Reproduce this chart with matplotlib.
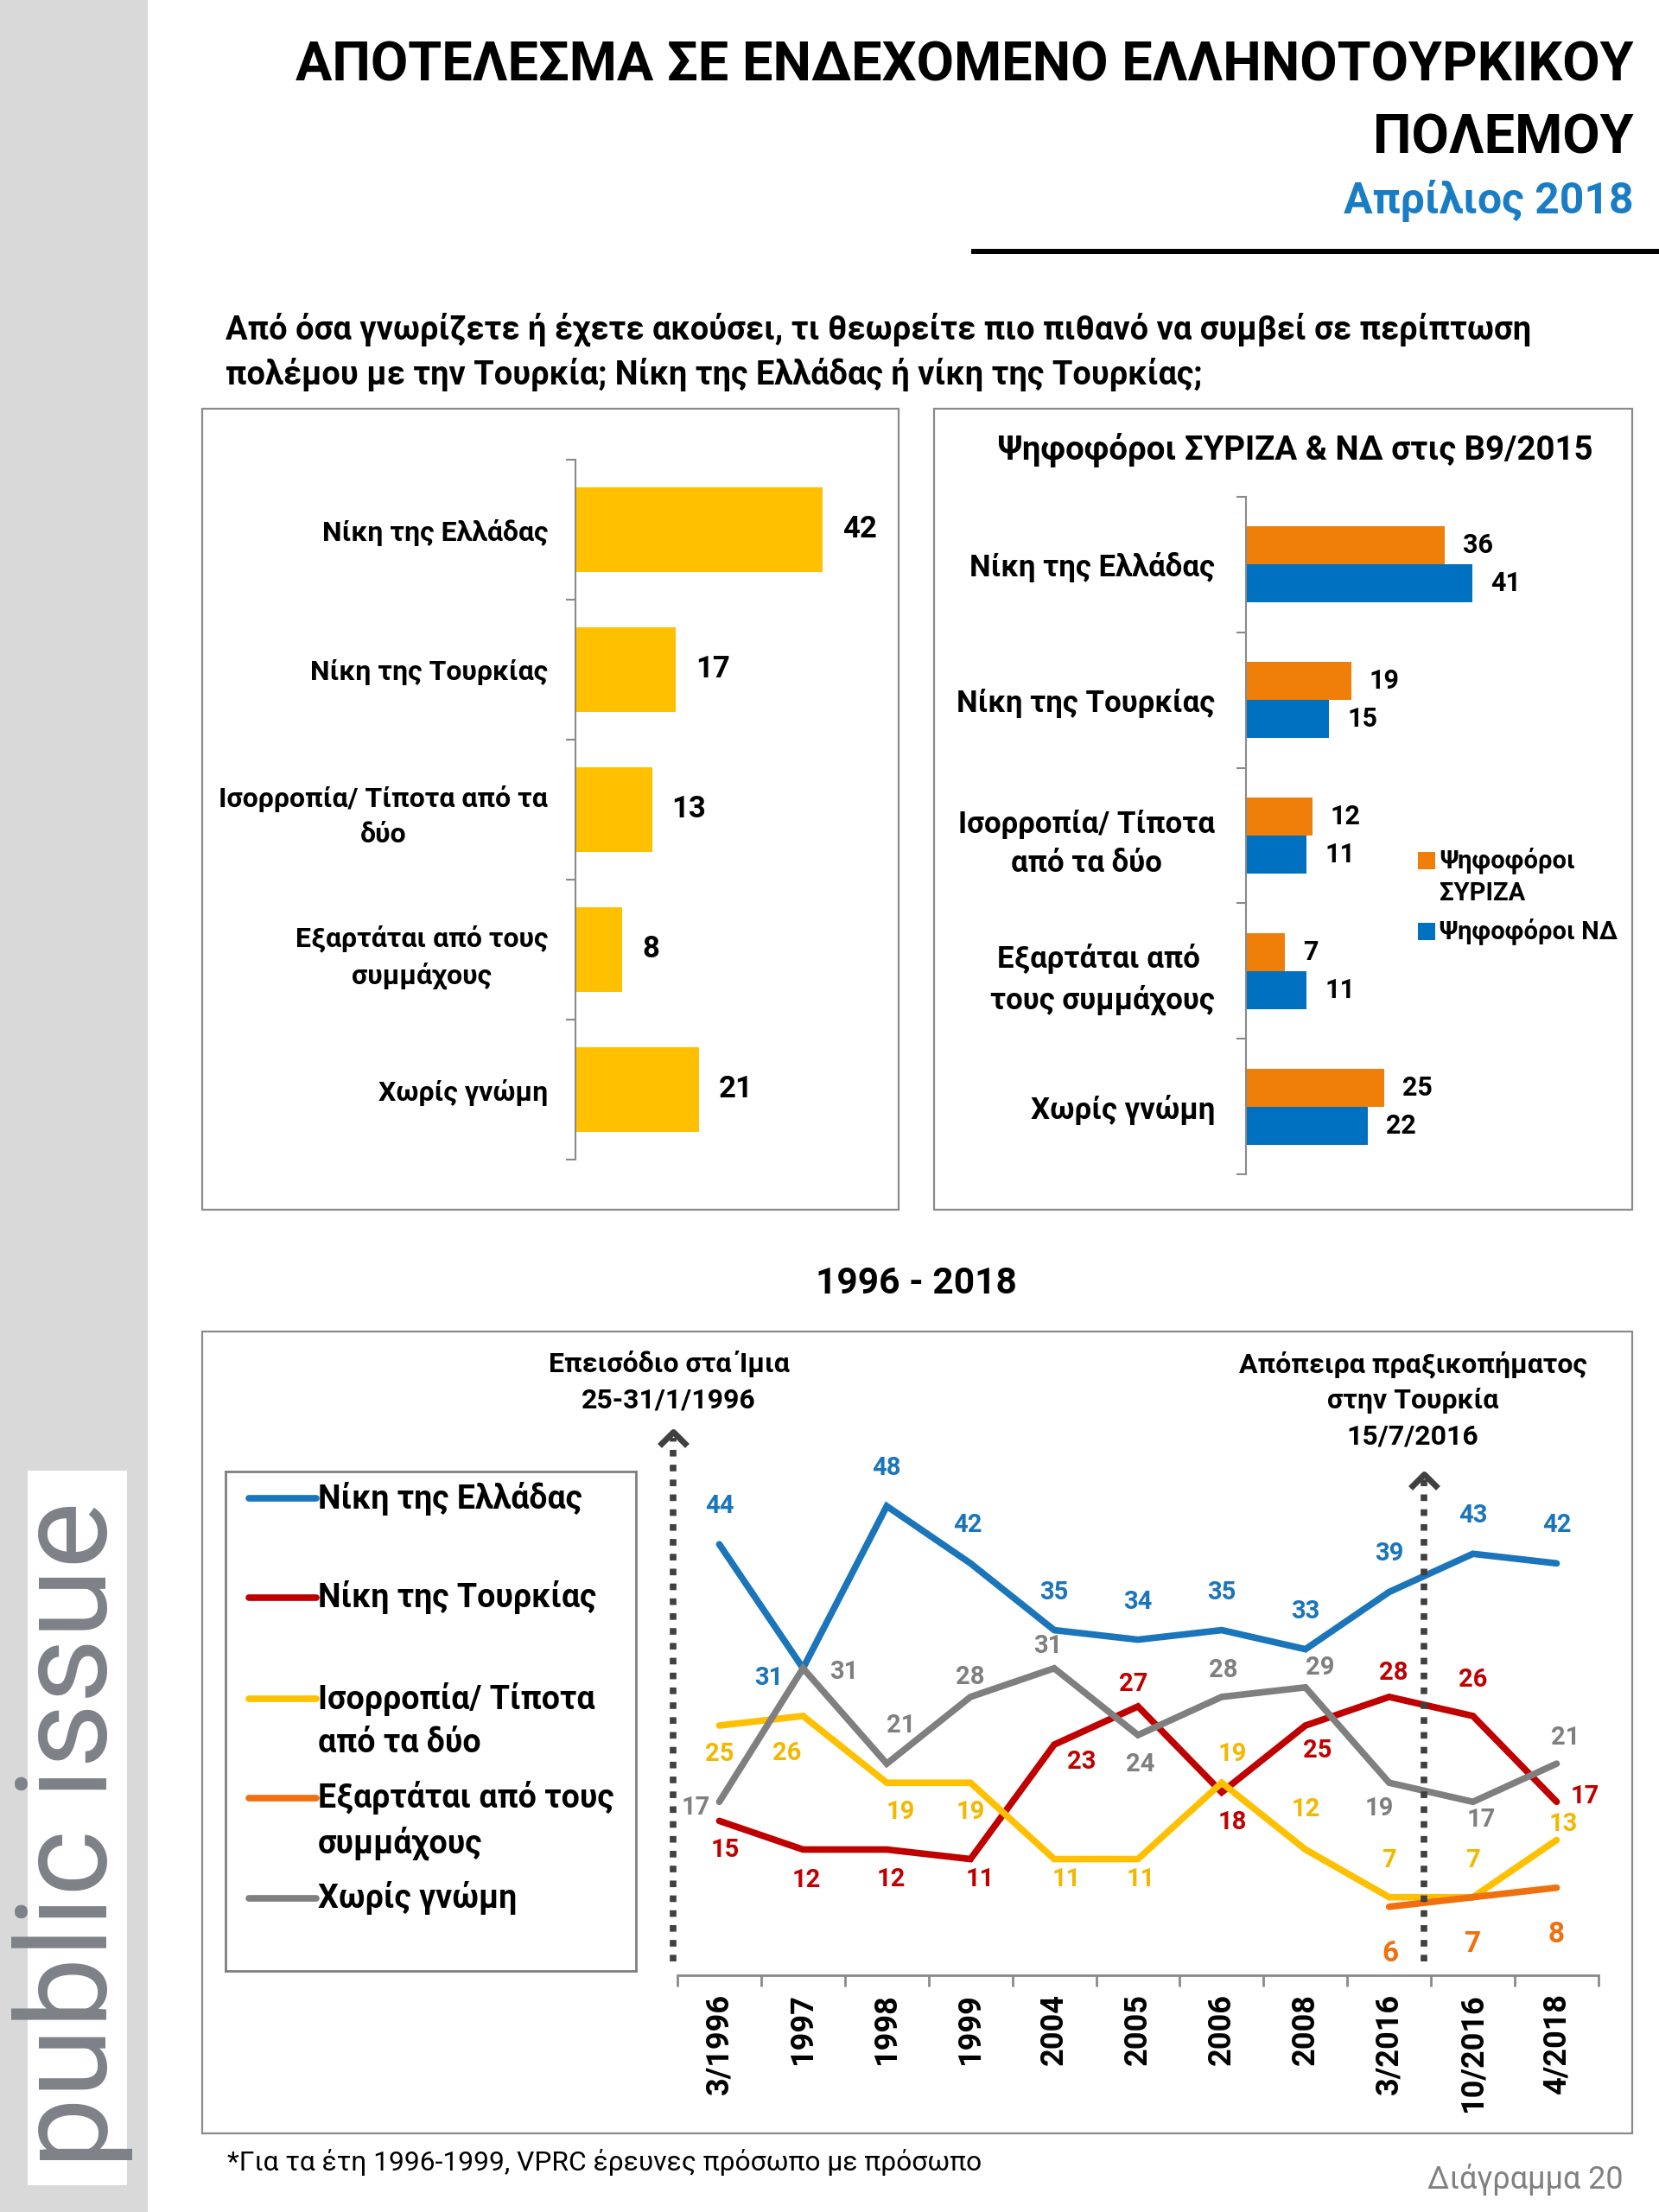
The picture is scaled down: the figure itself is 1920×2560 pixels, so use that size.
import numpy as np
import matplotlib
matplotlib.use('Agg')
import matplotlib.pyplot as plt
from matplotlib.patches import Rectangle
from matplotlib.lines import Line2D
from matplotlib.path import Path

plt.rcParams['font.family'] = ['Roboto', 'DejaVu Sans']

W, H = 1920, 2560

# ---- data ----
bar_cats = ['Νίκη της Ελλάδας', 'Νίκη της Τουρκίας', 'Ισορροπία/ Τίποτα από τα\nδύο',
            'Εξαρτάται από τους\nσυμμάχους', 'Χωρίς γνώμη']
bar_total = [42, 17, 13, 8, 21]

party_cats = ['Νίκη της Ελλάδας', 'Νίκη της Τουρκίας', 'Ισορροπία/ Τίποτα\nαπό τα δύο',
              'Εξαρτάται από \nτους συμμάχους', 'Χωρίς γνώμη']
syriza = [36, 19, 12, 7, 25]
nd = [41, 15, 11, 11, 22]

waves = ['3/1996', '1997', '1998', '1999', '2004', '2005', '2006', '2008',
         '3/2016', '10/2016', '4/2018']
greece_win = [44, 31, 48, 42, 35, 34, 35, 33, 39, 43, 42]
turkey_win = [15, 12, 12, 11, 23, 27, 18, 25, 28, 26, 17]
balance = [25, 26, 19, 19, 11, 11, 19, 12, 7, 7, 13]
allies = [np.nan] * 8 + [6, 7, 8]
no_opinion = [17, 31, 21, 28, 31, 24, 28, 29, 19, 17, 21]

series_names = ['Νίκη της Ελλάδας', 'Νίκη της Τουρκίας', 'Ισορροπία/ Τίποτα\nαπό τα δύο',
                'Εξαρτάται από τους\nσυμμάχους', 'Χωρίς γνώμη']

# label offsets in pixels (dx, dy up)
greece_off = [(0, 44), (-40, -11), (0, 44), (-3, 44), (0, 44), (0, 44), (0, 44), (0, 44), (0, 44), (0, 44), (0, 44)]
turkey_off = [(7, -34), (4, -36), (5, -35), (11, -23), (32, -20), (-5, 26), (12, -35), (14, -29), (5, 28), (0, 42), (33, 6)]
balance_off = [(0, -33), (-19, -43), (16, -34), (0, -34), (14, -23), (3, -23), (12, 33), (0, 46), (0, 43), (0, 43), (8, 18)]
allies_off = [(0, 0)] * 8 + [(1, -54), (0, -54), (0, -54)]
noop_off = [(-27, -7), (47, -4), (16, 44), (0, 23), (-7, 26), (3, -34), (2, 31), (17, 23), (-11, -30), (10, -21), (10, 30)]

BLUE = '#1b75bb'
RED = '#c00000'
YELLOW = '#ffc000'
ORANGE = '#f0700f'
GRAY = '#7f7f7f'
BORDER = '#8a8a8a'

fig = plt.figure(figsize=(W / 100, H / 100), dpi=100)
renderer = fig.canvas.get_renderer()


def fy(y):
    return 1 - y / H


def add_ax(x0, y0, x1, y1):
    return fig.add_axes([x0 / W, 1 - y1 / H, (x1 - x0) / W, (y1 - y0) / H])


def box(x0, y0, x1, y1, **kw):
    r = Rectangle((x0 / W, 1 - y1 / H), (x1 - x0) / W, (y1 - y0) / H,
                  transform=fig.transFigure, **kw)
    fig.add_artist(r)
    return r


def fit(t, target, vertical=False):
    bb = t.get_window_extent(renderer=renderer)
    cur = bb.height if vertical else bb.width
    t.set_fontsize(t.get_fontsize() * target / cur)
    return t.get_fontsize()


# ---- page decoration ----
box(0, 0, 171, H, facecolor='#d9d9d9', edgecolor='none', zorder=0)
box(32, 1702, 147, 2529, facecolor='white', edgecolor='none', zorder=0)
t = fig.text(84 / W, fy(2123), 'public issue', rotation=90, ha='center', va='center',
             color='#7d8188', fontsize=60)
fit(t, 772, vertical=True)

t1 = fig.text(1891 / W, fy(93), 'ΑΠΟΤΕΛΕΣΜΑ ΣΕ ΕΝΔΕΧΟΜΕΝΟ ΕΛΛΗΝΟΤΟΥΡΚΙΚΟΥ', ha='right',
              va='baseline', fontsize=40, fontweight='bold')
fs = fit(t1, 1548)
fig.text(1891 / W, fy(178), 'ΠΟΛΕΜΟΥ', ha='right', va='baseline', fontsize=fs, fontweight='bold')
t = fig.text(1891 / W, fy(247), 'Απρίλιος 2018', ha='right', va='baseline', fontsize=30,
             fontweight='bold', color='#1a7dc4')
fit(t, 336)
fig.add_artist(Line2D([1127 / W, 1], [fy(291), fy(291)], color='black', lw=4.3,
                      transform=fig.transFigure))

t = fig.text(261 / W, fy(393), 'Από όσα γνωρίζετε ή έχετε ακούσει, τι θεωρείτε πιο πιθανό να συμβεί σε περίπτωση',
             ha='left', va='baseline', fontsize=24, fontweight='bold')
fs = fit(t, 1510)
fig.text(261 / W, fy(445), 'πολέμου με την Τουρκία; Νίκη της Ελλάδας ή νίκη της Τουρκίας;',
         ha='left', va='baseline', fontsize=fs, fontweight='bold')

# panel frames
box(234, 473, 1040, 1400, fill=False, edgecolor=BORDER, lw=1.6)
box(1081, 473, 1889, 1400, fill=False, edgecolor=BORDER, lw=1.6)
box(234, 1541, 1889, 2469, fill=False, edgecolor=BORDER, lw=1.6)


def style_cat_axis(ax, labels, size, pad):
    for s in ['top', 'right', 'bottom']:
        ax.spines[s].set_visible(False)
    ax.spines['left'].set_color(BORDER)
    ax.spines['left'].set_linewidth(1.5)
    ax.xaxis.set_visible(False)
    ax.set_yticks(range(len(labels)))
    ax.set_yticklabels(labels, fontsize=size, fontweight='bold', multialignment='center',
                       linespacing=1.45)
    ax.set_yticks(np.arange(-0.5, len(labels)), minor=True)
    ax.tick_params(axis='y', which='major', length=0, pad=pad)
    ax.tick_params(axis='y', which='minor', length=8, width=1.5, color=BORDER, direction='out')
    ax.set_ylim(len(labels) - 0.5, -0.5)


# ---- left bar chart ----
ax1 = add_ax(666, 532, 1020, 1342)
ax1.barh(range(len(bar_total)), bar_total, height=0.6, color=YELLOW)
ax1.set_xlim(0, 52)
style_cat_axis(ax1, bar_cats, 23, 23)
for i, v in enumerate(bar_total):
    ax1.annotate(str(v), (v, i), xytext=(23, 0), textcoords='offset pixels', ha='left',
                 va='center', fontsize=25, fontweight='bold', annotation_clip=False)

# ---- right bar chart ----
ax2 = add_ax(1442, 575, 1762, 1359)
pos = np.arange(len(syriza))
ax2.barh(pos - 0.14, syriza, height=0.28, color='#f07f09')
ax2.barh(pos + 0.14, nd, height=0.28, color='#0070c0')
ax2.set_xlim(0, 50)
style_cat_axis(ax2, party_cats, 25, 26)
for i in range(len(syriza)):
    ax2.annotate(str(syriza[i]), (syriza[i], i - 0.14), xytext=(21, 0), textcoords='offset pixels',
                 ha='left', va='center', fontsize=22, fontweight='bold', annotation_clip=False)
    ax2.annotate(str(nd[i]), (nd[i], i + 0.14), xytext=(21, 0), textcoords='offset pixels',
                 ha='left', va='center', fontsize=22, fontweight='bold', annotation_clip=False)
t = fig.text(1499 / W, fy(531), 'Ψηφοφόροι ΣΥΡΙΖΑ & ΝΔ στις Β9/2015', ha='center', va='baseline',
             fontsize=25, fontweight='bold')
fit(t, 689)
box(1641, 986, 1661, 1006, facecolor='#f07f09', edgecolor='none')
box(1641, 1068, 1661, 1088, facecolor='#0070c0', edgecolor='none')
fig.text(1666 / W, fy(996), 'Ψηφοφόροι', ha='left', va='center', fontsize=21, fontweight='bold')
fig.text(1666 / W, fy(1034), 'ΣΥΡΙΖΑ', ha='left', va='center', fontsize=21, fontweight='bold')
fig.text(1666 / W, fy(1078), 'Ψηφοφόροι ΝΔ', ha='left', va='center', fontsize=21, fontweight='bold')

# ---- line chart ----
t = fig.text(1060 / W, fy(1497), '1996 - 2018', ha='center', va='baseline', fontsize=28,
             fontweight='bold')
fit(t, 233)

ax3 = add_ax(784, 1600, 1850, 2286)
x = np.arange(len(waves))
series = [greece_win, turkey_win, balance, allies, no_opinion]
colors = [BLUE, RED, YELLOW, ORANGE, GRAY]
offsets = [greece_off, turkey_off, balance_off, allies_off, noop_off]
for vals, c, offs in zip(series, colors, offsets):
    ax3.plot(x, vals, color=c, lw=5.5, solid_capstyle='round', solid_joinstyle='miter')
    big = c == ORANGE
    for xi, v, (dx, dy) in zip(x, vals, offs):
        if np.isnan(v):
            continue
        ax3.annotate(str(int(v)), (xi, v), xytext=(dx, dy), textcoords='offset pixels',
                     ha='center', va='center', color=c if c != YELLOW else '#f2b800',
                     fontsize=24 if big else 21, fontweight='bold', annotation_clip=False)

ax3.set_xlim(-0.5, len(waves) - 0.5)
ax3.set_ylim(-1.18, 60.96)
for s in ['top', 'right', 'left']:
    ax3.spines[s].set_visible(False)
ax3.spines['bottom'].set_color(BORDER)
ax3.spines['bottom'].set_linewidth(2)
ax3.yaxis.set_visible(False)
ax3.set_xticks(x)
ax3.set_xticklabels(waves, rotation=90, fontsize=26, fontweight='bold')
ax3.set_xticks(np.arange(-0.5, len(waves)), minor=True)
ax3.tick_params(axis='x', which='major', length=0, pad=15)
ax3.tick_params(axis='x', which='minor', length=9, width=2, color=BORDER, direction='out')

# event markers: dotted line with open arrow head
chevron = Path([(-1, -1), (0, 0), (1, -1)], [Path.MOVETO, Path.LINETO, Path.LINETO])
for ex, top in [(-0.55, 55.8), (8.42, 51.4)]:
    ax3.plot([ex, ex], [0.3, top - 0.6], color='#404040', lw=5.5, linestyle=(0, (1.0, 1.25)),
             dash_capstyle='butt', clip_on=False)
    ax3.plot([ex], [top], marker=chevron, markersize=23, markerfacecolor='none',
             markeredgecolor='#404040', markeredgewidth=5, clip_on=False)

ann_size = 23
fig.text(774 / W, fy(1579), 'Επεισόδιο στα Ίμια', ha='center', va='center', fontsize=ann_size, fontweight='bold')
fig.text(774 / W, fy(1621), '25-31/1/1996', ha='center', va='center', fontsize=ann_size, fontweight='bold')
fig.text(1635 / W, fy(1579), 'Απόπειρα πραξικοπήματος', ha='center', va='center', fontsize=ann_size, fontweight='bold')
fig.text(1635 / W, fy(1621), 'στην Τουρκία', ha='center', va='center', fontsize=ann_size, fontweight='bold')
fig.text(1635 / W, fy(1662), '15/7/2016', ha='center', va='center', fontsize=ann_size, fontweight='bold')

# legend box
lg = add_ax(261, 1703, 736, 2281)
lg.set_xlim(0, 475)
lg.set_ylim(578, 0)
lg.set_xticks([])
lg.set_yticks([])
for s in lg.spines.values():
    s.set_color('#7f7f7f')
    s.set_linewidth(2)
entry_y = [31, 146, 263, 378, 494]
for name, c, yy in zip(series_names, colors, entry_y):
    lg.plot([27, 105], [yy, yy], color=c, lw=5.5, solid_capstyle='round')
    for k, line in enumerate(name.split('\n')):
        lg.text(107, yy + 52 * k, line, ha='left', va='center', fontsize=27, fontweight='bold')

# footer
t = fig.text(263 / W, fy(2512), '*Για τα έτη 1996-1999, VPRC έρευνες πρόσωπο με πρόσωπο',
             ha='left', va='baseline', fontsize=18)
fit(t, 875)
t = fig.text(1879 / W, fy(2533), 'Διάγραμμα 20', ha='right', va='baseline', fontsize=18,
             color='#808080')
fit(t, 227)

fig.savefig('out.png', dpi=100)
